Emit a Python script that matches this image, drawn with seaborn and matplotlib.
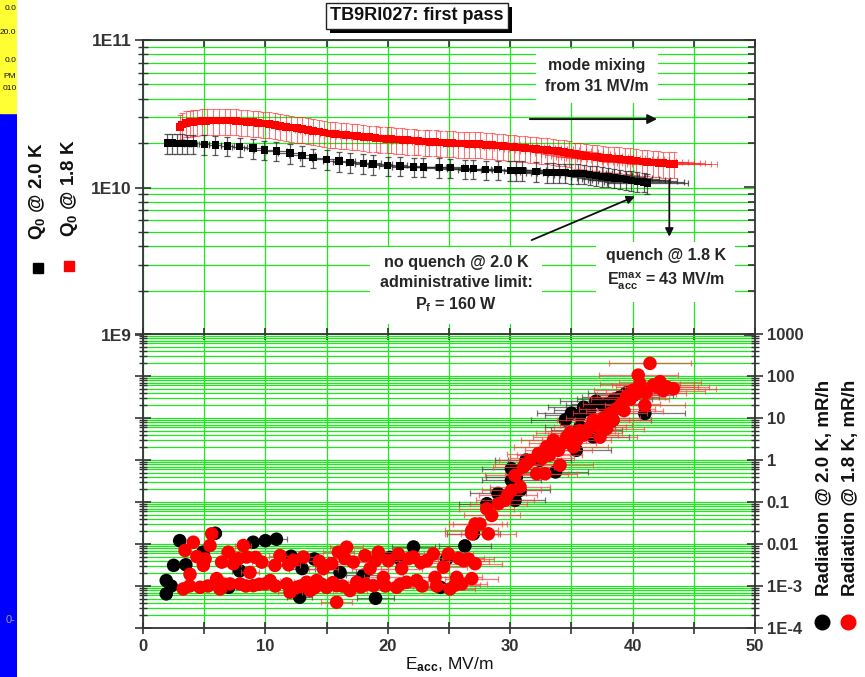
import numpy as np
import matplotlib
matplotlib.use("Agg")
import matplotlib.pyplot as plt
import matplotlib.patheffects as pe
from matplotlib.lines import Line2D
from matplotlib.patches import Rectangle
from matplotlib.ticker import LogLocator, NullFormatter, FixedFormatter, FixedLocator, MultipleLocator
import seaborn as sns

# Q0 @ 2.0 K (black squares)
q20_x = np.array([2.0, 2.4, 2.8, 3.2, 3.6, 4.1, 5.0, 5.9, 6.9, 7.9, 9.0, 9.9, 10.9, 12.0,
                  13.0, 13.9, 15.0, 16.0, 16.9, 18.0, 18.8, 20.0, 21.0, 22.1, 22.9, 24.2,
                  25.1, 26.3, 27.0, 28.0, 29.0, 30.0, 30.5, 31.0, 32.1, 33.0, 33.5, 34.0,
                  34.5, 35.0, 35.5, 36.0, 36.5, 37.0, 37.5, 38.0, 38.5, 39.0, 39.5, 39.9,
                  40.4, 40.9, 41.2])
q20_y = np.array([2.00, 2.00, 1.99, 1.99, 1.98, 1.98, 1.96, 1.94, 1.91, 1.89, 1.85, 1.80, 1.77,
                  1.71, 1.65, 1.59, 1.55, 1.51, 1.48, 1.46, 1.44, 1.41, 1.40, 1.38, 1.38, 1.37,
                  1.36, 1.34, 1.34, 1.32, 1.32, 1.31, 1.31, 1.31, 1.29, 1.27, 1.27, 1.26, 1.26,
                  1.25, 1.25, 1.24, 1.22, 1.21, 1.19, 1.18, 1.16, 1.15, 1.13, 1.12, 1.10, 1.09,
                  1.07]) * 1e10

# Q0 @ 1.8 K (red squares)
q18_x = np.array([3.0, 3.2, 3.5, 3.8, 4.1, 4.4, 4.8, 5.2, 5.7, 6.2, 6.7, 7.1, 7.6, 8.0, 8.5,
                  9.0, 9.4, 9.8, 10.3, 10.8, 11.2, 11.7, 12.1, 12.6, 13.0, 13.5, 13.9, 14.4,
                  14.8, 15.3, 15.7, 16.2, 16.6, 17.1, 17.5, 18.0, 18.5, 19.0, 19.4, 19.9, 20.3,
                  20.7, 21.2, 21.6, 22.1, 22.5, 23.0, 23.4, 23.9, 24.3, 24.8, 25.3, 25.7, 26.2,
                  26.6, 27.1, 27.5, 28.0, 28.5, 28.9, 29.4, 29.8, 30.3, 30.7, 31.2, 31.6, 32.1,
                  32.5, 33.0, 33.5, 33.9, 34.4, 34.8, 35.3, 35.7, 36.2, 36.7, 37.1, 37.6, 38.0,
                  38.5, 38.9, 39.4, 39.8, 40.3, 40.8, 41.2, 41.7, 42.1, 42.5, 43.0, 43.4])
q18_y = np.array([2.58, 2.68, 2.74, 2.77, 2.79, 2.80, 2.82, 2.83, 2.84, 2.85, 2.85, 2.84, 2.83,
                  2.81, 2.79, 2.77, 2.75, 2.72, 2.69, 2.65, 2.61, 2.58, 2.55, 2.52, 2.49, 2.45,
                  2.42, 2.39, 2.36, 2.33, 2.31, 2.29, 2.27, 2.25, 2.23, 2.21, 2.19, 2.17, 2.15,
                  2.14, 2.13, 2.12, 2.10, 2.09, 2.08, 2.06, 2.05, 2.04, 2.03, 2.02, 2.01, 2.00,
                  1.99, 1.99, 1.98, 1.97, 1.97, 1.95, 1.94, 1.93, 1.91, 1.90, 1.89, 1.87, 1.86,
                  1.84, 1.82, 1.81, 1.80, 1.78, 1.76, 1.74, 1.71, 1.68, 1.66, 1.64, 1.62, 1.61,
                  1.59, 1.58, 1.57, 1.56, 1.55, 1.54, 1.52, 1.50, 1.49, 1.48, 1.47, 1.46, 1.45,
                  1.44]) * 1e10

# radiation @ 2.0 K, mR/h (black circles)
r20_x = np.array([1.9, 1.9, 2.3, 2.5, 3.0, 3.5, 4.9, 5.9, 7.0, 7.9, 9.0, 10.0, 10.9, 12.1,
                  12.8, 13.0, 14.0, 16.1, 18.0, 19.0, 20.2, 21.0, 22.1, 24.3, 24.8, 26.3,
                  27.0, 28.1, 29.0, 30.1, 30.1, 30.4, 30.5, 30.8, 31.3, 32.4, 33.7, 34.5,
                  35.0, 35.4, 35.7, 35.7, 36.0, 36.2, 36.5, 36.8, 37.0, 37.6, 38.0, 38.4,
                  38.5, 39.0, 39.5, 40.1, 41.0])
r20_y = np.array([6.5e-4, 1.35e-3, 1.0e-3, 3.1e-3, 0.012, 3.2e-3, 6.4e-3, 0.018, 9.3e-4, 2.3e-3,
                  0.011, 0.012, 0.013, 5.1e-3, 5.4e-4, 2.6e-3, 4.4e-3, 2.1e-3, 1.8e-3, 5.1e-4,
                  4.8e-3, 4.4e-3, 8.5e-3, 9.3e-4, 4.4e-3, 9.0e-3, 0.0175, 0.091, 0.16, 0.33,
                  0.62, 0.11, 0.39, 0.19, 1.0, 0.98, 0.52, 9.0, 13.0, 1.7, 6.1, 11.7, 18.0, 5.1,
                  15.4, 3.5, 25.0, 20.2, 22.0, 8.9, 28.0, 32.0, 40.0, 35.0, 12.8])

# radiation @ 1.8 K, mR/h (red circles)
r18_x = np.array([3.29, 3.84, 3.43, 4.11, 4.66, 4.93, 5.07, 5.47, 5.61, 6.02, 6.29, 6.43, 6.97,
                  7.11, 7.38, 7.93, 8.2, 8.47, 8.74, 9.01, 9.7, 9.97, 10.38, 10.78, 11.19,
                  11.74, 12.01, 12.55, 13.1, 13.37, 13.64, 14.19, 14.73, 15.0, 15.41, 15.82,
                  15.82, 15.96, 16.64, 16.91, 17.18, 17.46, 18.14, 18.55, 18.82, 19.23, 19.64,
                  20.04, 20.72, 20.86, 21.13, 21.54, 22.09, 22.36, 23.18, 23.72, 23.86, 24.54,
                  24.95, 25.08, 25.63, 26.03, 26.58, 26.86, 27.13, 26.86, 27.13,
                  3.8, 5.3, 6.7, 8.4, 9.5, 10.8, 12.9, 14.0, 14.6, 15.5, 16.3, 17.8, 18.2,
                  19.8, 21.0, 22.8, 24.0, 25.5, 4.4, 7.8, 9.2, 11.9, 12.3, 14.4, 16.5, 19.0,
                  21.7, 22.7, 25.8, 26.2,
                  26.85, 27.53, 28.21, 28.08, 28.49, 29.03, 29.57, 29.8, 30.12, 30.8, 30.39,
                  31.07, 31.3, 31.62, 32.16, 32.84, 32.3, 32.6, 32.98, 33.2, 33.53, 34.07,
                  33.93, 34.3, 34.61, 34.9, 35.16, 35.43, 35.7, 35.97, 36.2, 36.52, 36.79,
                  37.0, 37.34, 37.6, 37.88, 38.15, 38.4, 38.7, 39.1, 39.3, 39.51, 39.8, 40.05,
                  40.3, 40.6, 40.46, 41.0, 41.1, 41.69, 42.0, 42.24, 42.5, 42.78, 43.33, 41.42])
r18_y = np.array([8.5e-4, 1.9e-3, 7.0e-3, 0.011, 9.3e-4, 3.1e-3, 4.4e-3, 9.2e-3, 0.0175, 1.5e-3,
                  8.5e-4, 3.7e-3, 6.4e-3, 1.12e-3, 3.4e-3, 1.12e-3, 9.2e-3, 4.9e-3, 2.1e-3,
                  1.02e-3, 3.7e-3, 1.12e-3, 1.35e-3, 3.1e-3, 5.3e-3, 1.12e-3, 7.1e-4, 9.3e-4,
                  4.9e-3, 1.23e-3, 7.8e-4, 1.35e-3, 2.6e-3, 9.3e-4, 3.4e-3, 1.02e-3, 4.1e-4,
                  6.4e-3, 8.4e-3, 7.8e-4, 3.7e-3, 1.23e-3, 5.3e-3, 2.6e-3, 1.02e-3, 6.4e-3,
                  1.6e-3, 4.0e-3, 9.3e-4, 5.8e-3, 2.6e-3, 1.23e-3, 4.9e-3, 1.35e-3, 4.0e-3,
                  5.8e-3, 1.6e-3, 2.8e-3, 5.8e-3, 8.5e-4, 1.6e-3, 1.12e-3, 4.4e-3, 1.5e-3,
                  3.4e-3, 0.021, 0.030,
                  1.0e-3, 1.0e-3, 1.1e-3, 1.0e-3, 1.1e-3, 1.0e-3, 1.0e-3, 9.0e-4, 1.1e-3,
                  1.2e-3, 1.0e-3, 9.5e-4, 1.1e-3, 1.0e-3, 1.1e-3, 1.0e-3, 1.0e-3, 1.05e-3,
                  5.0e-3, 4.5e-3, 4.8e-3, 3.2e-3, 4.1e-3, 3.9e-3, 4.5e-3, 4.0e-3, 4.5e-3,
                  3.6e-3, 4.6e-3, 4.0e-3,
                  0.0175, 0.030, 0.0175, 0.069, 0.048, 0.091, 0.11, 0.15, 0.19, 0.23, 0.43,
                  0.68, 0.8, 0.98, 0.47, 0.47, 1.42, 1.1, 2.05, 1.3, 2.95, 0.75, 1.7, 2.5, 3.5,
                  4.5, 2.05, 2.95, 5.0, 3.9, 4.5, 6.1, 8.9, 7.0, 3.5, 10.0, 5.6, 12.8, 9.0,
                  16.8, 22.0, 15.0, 32.0, 28.0, 46.0, 38.0, 66.0, 105.0, 20.0, 40.0, 61.0,
                  55.0, 73.0, 45.0, 55.0, 50.0, 200.0])

rad_ticks = [1e-4, 1e-3, 1e-2, 1e-1, 1, 10, 100, 1000]
rad_labels = ["1E-4", "1E-3", "0.01", "0.1", "1", "10", "100", "1000"]
q_ticks = [1e9, 1e10, 1e11]
q_labels = ["1E9", "1E10", "1E11"]

sns.set_theme(style="white")
plt.rcParams['font.family'] = ['Liberation Sans', 'DejaVu Sans']
plt.rcParams['font.weight'] = 'bold'
plt.rcParams['mathtext.fontset'] = 'custom'
plt.rcParams['mathtext.rm'] = 'Liberation Sans:bold'
plt.rcParams['mathtext.it'] = 'Liberation Sans:bold'
plt.rcParams['mathtext.bf'] = 'Liberation Sans:bold'
plt.rcParams['mathtext.default'] = 'rm'

W, H = 865, 677
fig = plt.figure(figsize=(W / 100, H / 100), dpi=100)

GRID = '#1ee81e'
SPINE = '#333333'
ax1 = fig.add_axes([143 / W, 1 - 335 / H, 612 / W, 295 / H])
ax2 = fig.add_axes([143 / W, 1 - 628 / H, 612 / W, 294 / H])

for ax in (ax1, ax2):
    ax.set_xlim(0, 50)
    ax.set_yscale('log')
    ax.set_axisbelow(True)
    ax.xaxis.set_major_locator(MultipleLocator(10))
    ax.xaxis.set_minor_locator(MultipleLocator(5))
    ax.yaxis.set_minor_locator(LogLocator(base=10, subs=np.arange(2, 10), numticks=30))
    ax.yaxis.set_minor_formatter(NullFormatter())
    ax.grid(which='both', color=GRID, lw=0.9)
    for s in ax.spines.values():
        s.set_color(SPINE)
        s.set_linewidth(1.3)

# --- upper panel: Q0 ---
ax1.set_ylim(1e9, 1e11)
ax1.yaxis.set_major_locator(FixedLocator(q_ticks))
ax1.yaxis.set_major_formatter(FixedFormatter(q_labels))
ax1.tick_params(axis='y', which='both', direction='inout', left=True, right=False,
                colors=SPINE, labelsize=12.5, pad=2)
ax1.tick_params(axis='y', which='major', length=12, width=1.2)
ax1.tick_params(axis='y', which='minor', length=7, width=1.0)
ax1.tick_params(axis='x', which='both', direction='in', top=True, bottom=False,
                labelbottom=False, colors=SPINE, length=5, width=1.2)
ax1.spines['bottom'].set_visible(False)

ax1r = ax1.twinx()
ax1r.set_yscale('log')
ax1r.set_ylim(1e9, 1e11)
ax1r.yaxis.set_major_locator(FixedLocator(q_ticks))
ax1r.yaxis.set_minor_locator(LogLocator(base=10, subs=np.arange(2, 10), numticks=30))
ax1r.yaxis.set_minor_formatter(NullFormatter())
ax1r.tick_params(axis='y', which='both', direction='in', right=True, labelright=False,
                 colors=SPINE, width=1.2)
ax1r.tick_params(axis='y', which='major', length=8)
ax1r.tick_params(axis='y', which='minor', length=5)
ax1r.grid(False)
for s in ax1r.spines.values():
    s.set_visible(False)

ax1.errorbar(q18_x, q18_y, yerr=0.2 * q18_y, xerr=0.08 * q18_x, fmt='none',
             ecolor=(1, 0.1, 0.1, 0.6), elinewidth=0.8, capsize=2.5, capthick=0.8, zorder=3)
sns.scatterplot(x=q18_x, y=q18_y, ax=ax1, marker='s', s=30, color='#ff0000',
                edgecolor='none', legend=False, zorder=4)
ax1.errorbar(q20_x, q20_y, yerr=0.15 * q20_y, xerr=0.08 * q20_x, fmt='none',
             ecolor=(0.15, 0.15, 0.15, 0.75), elinewidth=0.9, capsize=2.5, capthick=0.9, zorder=5)
sns.scatterplot(x=q20_x, y=q20_y, ax=ax1, marker='s', s=28, color='black',
                edgecolor='none', legend=False, zorder=6)

box = dict(boxstyle='square,pad=0.6', fc='white', ec='none')
ax1.text(37.1, 5.7e10, "mode mixing\nfrom 31 MV/m", ha='center', va='center', fontsize=11.3,
         linespacing=1.45, bbox=box, zorder=7)
ax1.annotate('', xy=(31.6, 2.91e10), xytext=(31.6, 2.91e10),
             arrowprops=dict(arrowstyle='|-|,widthA=0.25,widthB=0.25', color='#111', lw=1.2))
ax1.annotate('', xy=(42.0, 2.91e10), xytext=(31.6, 2.91e10), zorder=8,
             arrowprops=dict(arrowstyle='-|>', color='#111', lw=1.4, mutation_scale=14,
                             shrinkA=0, shrinkB=0))
ax1.text(25.6, 2.2e9, "no quench @ 2.0 K\nadministrative limit:\nP$_f$ = 160 W", ha='center',
         va='center', fontsize=11.6, linespacing=1.4, bbox=box, zorder=7)
ax1.annotate('', xy=(40.2, 8.7e9), xytext=(31.75, 4.4e9), zorder=8,
             arrowprops=dict(arrowstyle='-|>', color='#111', lw=1.3, mutation_scale=12,
                             shrinkA=0, shrinkB=0))
ax1.text(42.7, 2.76e9, "quench @ 1.8 K\nE$_{acc}^{max}$ = 43 MV/m", ha='center', va='center',
         fontsize=11.5, linespacing=1.55, bbox=box, zorder=7)
ax1.annotate('', xy=(43.0, 4.64e9), xytext=(43.0, 1.125e10), zorder=8,
             arrowprops=dict(arrowstyle='-|>', color='#111', lw=1.3, mutation_scale=12,
                             shrinkA=0, shrinkB=0))

# --- lower panel: radiation ---
ax2.set_ylim(1e-4, 1e3)
ax2.yaxis.set_major_locator(FixedLocator(rad_ticks))
ax2.yaxis.set_major_formatter(FixedFormatter(rad_labels))
ax2.tick_params(axis='y', which='both', direction='inout', left=True, right=True,
                labelleft=False, labelright=True, colors=SPINE, labelsize=12, pad=3)
ax2.tick_params(axis='y', which='major', length=11, width=1.2)
ax2.tick_params(axis='y', which='minor', length=6, width=1.0)
ax2.tick_params(axis='x', which='both', direction='inout', top=True, bottom=True,
                colors=SPINE, labelsize=12, length=8, width=1.2, pad=4)

ax2.errorbar(r20_x, r20_y, xerr=0.08 * r20_x, fmt='none', ecolor=(0.25, 0.25, 0.25, 0.7),
             elinewidth=0.9, capsize=2.5, capthick=0.9, zorder=3)
sns.scatterplot(x=r20_x, y=r20_y, ax=ax2, s=95, color='black', edgecolor='none',
                legend=False, zorder=4)
ax2.errorbar(r18_x, r18_y, xerr=0.08 * r18_x, fmt='none', ecolor=(1, 0.25, 0.25, 0.7),
             elinewidth=0.9, capsize=2.5, capthick=0.9, zorder=5)
sns.scatterplot(x=r18_x, y=r18_y, ax=ax2, s=95, color='#ff0000', edgecolor='none',
                legend=False, zorder=6)
ax2.set_xlabel("E$_{acc}$, MV/m", fontsize=12.5, labelpad=1, color='#111')
ax2.set_ylabel("")

# --- title ---
t = fig.text(417 / W, 1 - 16 / H, "TB9RI027: first pass", ha='center', va='center',
             fontsize=13, color='#111',
             bbox=dict(boxstyle='square,pad=0.25', fc='white', ec='#222', lw=1.0))
t.get_bbox_patch().set_path_effects([pe.withSimplePatchShadow(offset=(3, -3),
                                                              shadow_rgbFace='black', alpha=1)])

# --- side legends ---
fig.text(38 / W, 1 - 191 / H, "Q$_0$ @ 2.0 K", rotation=90, ha='center', va='center',
         fontsize=13.5, color='#111')
fig.text(70 / W, 1 - 188 / H, "Q$_0$ @ 1.8 K", rotation=90, ha='center', va='center',
         fontsize=13.5, color='#111')
fig.add_artist(Line2D([38 / W], [1 - 268 / H], marker='s', ms=7.5, color='black', ls='none',
                      transform=fig.transFigure))
fig.add_artist(Line2D([69 / W], [1 - 266 / H], marker='s', ms=7.5, color='#ff0000', ls='none',
                      transform=fig.transFigure))
fig.text(825 / W, 1 - 488 / H, "Radiation @ 2.0 K, mR/h", rotation=90, ha='center',
         va='center', fontsize=13.5, color='#111')
fig.text(850 / W, 1 - 488 / H, "Radiation @ 1.8 K, mR/h", rotation=90, ha='center',
         va='center', fontsize=13.5, color='#111')
fig.add_artist(Line2D([822 / W], [1 - 622 / H], marker='o', ms=10.5, color='black', ls='none',
                      transform=fig.transFigure))
fig.add_artist(Line2D([848 / W], [1 - 622 / H], marker='o', ms=10.5, color='#ff0000', ls='none',
                      transform=fig.transFigure))

# --- left strip (edge of another window) ---
sax = fig.add_axes([0, 0, 17 / W, 1])
sax.set_xlim(0, 1)
sax.set_ylim(0, H)
sax.axis('off')
sax.add_patch(Rectangle((0, 0), 1, H - 113, color='#0000ff'))
sax.add_patch(Rectangle((0, H - 113), 1, 113, color='#ffff33'))
for txt, yy in [("0.0", 8), ("20.0", 32), ("0.0", 60), ("PM", 76), ("010", 89)]:
    sax.text(0.97, H - yy, txt, ha='right', va='center', fontsize=6, fontweight='normal',
             color='#111')
sax.text(0.9, H - 620, "0-", ha='right', va='center', fontsize=8, fontweight='normal',
         color='#999999')

fig.savefig("out.png", dpi=100)
